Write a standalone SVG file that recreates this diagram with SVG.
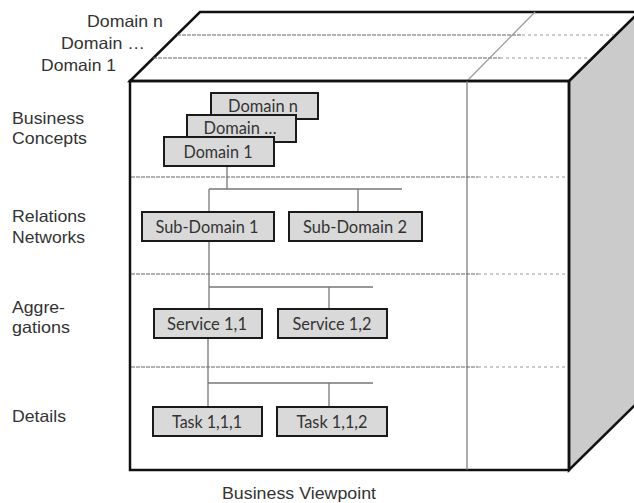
<svg xmlns="http://www.w3.org/2000/svg" width="634" height="503" viewBox="0 0 634 503">
<style>
.lbl{font-family:"Liberation Sans",Arial,sans-serif;font-size:16.5px;fill:#333}
.bt{font-family:Lato,"Noto Sans",sans-serif;font-size:17px;fill:#333;text-anchor:middle}
.box{fill:#d9d9d9;stroke:#1a1a1a;stroke-width:2}
.dk{stroke:#666;stroke-width:1.2;stroke-dasharray:4 1;fill:none}
.lt{stroke:#999;stroke-width:1.2;stroke-dasharray:3 3;fill:none}
.con{stroke:#777;stroke-width:1.3;fill:none}
.edge{stroke:#111;stroke-width:2.5;fill:none;stroke-linejoin:miter}
</style>
<rect width="634" height="503" fill="#fff"/>
<g id="cube">
<polygon points="569,81 639,12 639,401 569,470" fill="#cbcbcb" stroke="#111" stroke-width="2.5"/>
<polygon points="130,81 200,12 639,12 569,81" fill="#fff" stroke="#111" stroke-width="2.5"/>
<line class="dk" x1="177" y1="35" x2="522" y2="35"/>
<line class="lt" x1="522" y1="35" x2="614" y2="35"/>
<line class="dk" x1="153" y1="58" x2="500" y2="58"/>
<line class="lt" x1="500" y1="58" x2="591" y2="58"/>
<line x1="467" y1="81" x2="535" y2="12" stroke="#999" stroke-width="1.2"/>
<rect x="130" y="81" width="439" height="389" fill="#fff" class="edge"/>
<line x1="467" y1="81" x2="467" y2="470" stroke="#777" stroke-width="1.2"/>
<line class="dk" x1="131" y1="177" x2="478" y2="177"/>
<line class="lt" x1="478" y1="177" x2="568" y2="177"/>
<line class="dk" x1="131" y1="274" x2="478" y2="274"/>
<line class="lt" x1="478" y1="274" x2="568" y2="274"/>
<line class="dk" x1="131" y1="367" x2="478" y2="367"/>
<line class="lt" x1="478" y1="367" x2="568" y2="367"/>
</g>
<g id="connectors">
<path class="con" d="M227,166 V189 M209,189 H402 M209,189 V212 M358,189 V212"/>
<path class="con" d="M209,241 V309 M209,287 H373 M329,287 V309"/>
<path class="con" d="M208,338 V407 M208,383 H373 M329,383 V407"/>
</g>
<g id="labels">
<text class="lbl" x="163" y="27" text-anchor="end" textLength="76" lengthAdjust="spacingAndGlyphs">Domain n</text>
<text class="lbl" x="145" y="49" text-anchor="end" textLength="84" lengthAdjust="spacingAndGlyphs">Domain …</text>
<text class="lbl" x="116" y="71" text-anchor="end" textLength="75" lengthAdjust="spacingAndGlyphs">Domain 1</text>
<text class="lbl" x="12" y="124" textLength="72" lengthAdjust="spacingAndGlyphs">Business</text>
<text class="lbl" x="12" y="144" textLength="75" lengthAdjust="spacingAndGlyphs">Concepts</text>
<text class="lbl" x="12" y="222" textLength="74" lengthAdjust="spacingAndGlyphs">Relations</text>
<text class="lbl" x="12" y="243" textLength="73" lengthAdjust="spacingAndGlyphs">Networks</text>
<text class="lbl" x="12" y="313" textLength="53" lengthAdjust="spacingAndGlyphs">Aggre-</text>
<text class="lbl" x="12" y="333" textLength="58" lengthAdjust="spacingAndGlyphs">gations</text>
<text class="lbl" x="12" y="422" textLength="54" lengthAdjust="spacingAndGlyphs">Details</text>
<text class="lbl" x="299" y="499" text-anchor="middle" textLength="154" lengthAdjust="spacingAndGlyphs">Business Viewpoint</text>
</g>
<g id="domain-n"><rect class="box" x="211" y="93" width="107" height="26"/><text class="bt" x="263" y="112" textLength="70" lengthAdjust="spacingAndGlyphs">Domain n</text></g>
<g id="domain-dots"><rect class="box" x="187" y="115" width="109" height="27"/><text class="bt" x="240" y="134" textLength="73" lengthAdjust="spacingAndGlyphs">Domain …</text></g>
<g id="domain-1"><rect class="box" x="164" y="137" width="110" height="29"/><text class="bt" x="218" y="158" textLength="69" lengthAdjust="spacingAndGlyphs">Domain 1</text></g>
<g id="sub-domain-1"><rect class="box" x="142" y="212" width="132" height="29"/><text class="bt" x="207" y="233" textLength="103" lengthAdjust="spacingAndGlyphs">Sub-Domain 1</text></g>
<g id="sub-domain-2"><rect class="box" x="289" y="212" width="133" height="29"/><text class="bt" x="355" y="233" textLength="104" lengthAdjust="spacingAndGlyphs">Sub-Domain 2</text></g>
<g id="service-1-1"><rect class="box" x="154" y="309" width="108" height="29"/><text class="bt" x="207" y="330" textLength="80" lengthAdjust="spacingAndGlyphs">Service 1,1</text></g>
<g id="service-1-2"><rect class="box" x="278" y="309" width="109" height="29"/><text class="bt" x="332" y="330" textLength="79" lengthAdjust="spacingAndGlyphs">Service 1,2</text></g>
<g id="task-1-1-1"><rect class="box" x="153" y="407" width="109" height="29"/><text class="bt" x="207" y="428" textLength="70" lengthAdjust="spacingAndGlyphs">Task 1,1,1</text></g>
<g id="task-1-1-2"><rect class="box" x="277" y="407" width="110" height="29"/><text class="bt" x="332" y="428" textLength="71" lengthAdjust="spacingAndGlyphs">Task 1,1,2</text></g>
</svg>
